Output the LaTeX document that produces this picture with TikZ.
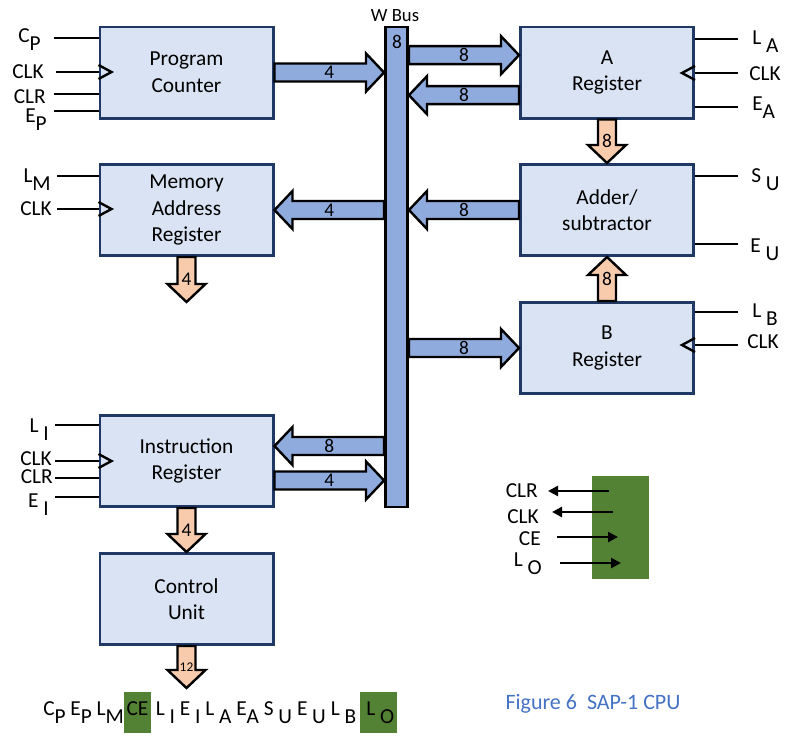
\documentclass[tikz,border=0pt]{standalone}
\usepackage{fontspec}
\setmainfont{Carlito}
\usepackage{xcolor}
\usepackage{tikz}
\usetikzlibrary{calc,arrows.meta}
\definecolor{boxfill}{RGB}{218,227,243}
\definecolor{boxline}{RGB}{31,56,100}
\definecolor{busblue}{RGB}{143,170,220}
\definecolor{aluorange}{RGB}{248,203,173}
\definecolor{sapgreen}{RGB}{84,130,53}
\definecolor{capblue}{RGB}{68,114,196}
\newcommand{\subs}[1]{\raisebox{-0.38em}{#1}}
\newcommand{\gbox}[1]{{\setlength{\fboxsep}{0pt}\colorbox{sapgreen}{\hspace{2pt}\rule[-13.5pt]{0pt}{30.75pt}#1\hspace{2pt}}}}
% block arrow: style, start, tip, label name, label
\newcommand{\blockarrow}[5]{%
  \coordinate (ba-s) at (#2);
  \coordinate (ba-t) at (#3);
  \coordinate (ba-h) at ($(ba-t)!13.5pt!(ba-s)$);
  \filldraw[#1] ($(ba-s)!6.75pt!90:(ba-t)$) -- ($(ba-h)!6.75pt!90:(ba-t)$) -- ($(ba-h)!14.25pt!90:(ba-t)$) -- (ba-t) -- ($(ba-h)!14.25pt!-90:(ba-t)$) -- ($(ba-h)!6.75pt!-90:(ba-t)$) -- ($(ba-s)!6.75pt!-90:(ba-t)$) -- cycle;
  \node[numlbl] (#4) at ($(ba-s)!.5!(ba-t)$) {#5};}
\tikzset{
  unit/.style={draw=boxline, fill=boxfill, line width=2pt, minimum width=130pt, minimum height=68.5pt, align=center, font=\fontsize{16}{20}\selectfont},
  wbus/.style={draw=black, fill=busblue, line width=2.2pt, minimum width=16.5pt, minimum height=360pt, inner sep=0pt},
  bluearrow/.style={draw=black, fill=busblue, line width=1.8pt},
  orangearrow/.style={draw=black, fill=aluorange, line width=1.8pt},
  numlbl/.style={inner sep=0pt, font=\fontsize{14.5}{16}\selectfont},
  sig/.style={inner sep=0pt, font=\fontsize{16}{18}\selectfont},
  ctl/.style={line width=2.2pt},
  legarrow/.style={line width=1.8pt, -{Triangle[length=7.5pt,width=7.5pt]}},
  clkmark/.pic={\draw[line width=1.8pt] (0,-7) -- (13,0) -- (0,7);}
}

\begin{document}
\begin{tikzpicture}[x=0.75pt, y=-0.75pt]
\useasboundingbox (0,0) rectangle (798,751);

% Units
\node[unit] (pc) at (186.5,72.5) {Program\\Counter};
\node[unit] (mar) at (186.5,210) {Memory\\Address\\Register};
\node[unit] (ir) at (186.5,461) {Instruction\\Register};
\node[unit] (cu) at (186.5,599) {Control\\Unit};
\node[unit] (areg) at (607,72.5) {A\\Register};
\node[unit] (alu) at (607,210) {Adder/\\subtractor};
\node[unit] (breg) at (607,348) {B\\Register};

% Bus
\node[wbus] (bus) at (396.5,267) {};
\node[numlbl] (busw) at (397,42) {8};
\node[sig, anchor=base, font=\fontsize{14}{16}\selectfont] (bustitle) at (395,21) {W Bus};

% Bus arrows
\coordinate (ain) at ([yshift=13pt]areg.west);
\coordinate (aout) at ([yshift=-17pt]areg.west);
\coordinate (irin) at ([yshift=11.25pt]ir.east);
\coordinate (irout) at ([yshift=-14.6pt]ir.east);
\blockarrow{bluearrow}{pc.east}{bus.west |- pc.east}{pcw}{4}
\blockarrow{bluearrow}{bus.west |- mar.east}{mar.east}{marw}{4}
\blockarrow{bluearrow}{bus.east |- ain}{ain}{aw1}{8}
\blockarrow{bluearrow}{aout}{bus.east |- aout}{aw2}{8}
\blockarrow{bluearrow}{alu.west}{bus.east |- alu.west}{aluw}{8}
\blockarrow{bluearrow}{bus.east |- breg.west}{breg.west}{bw}{8}
\blockarrow{bluearrow}{bus.west |- irin}{irin}{irw1}{8}
\blockarrow{bluearrow}{irout}{bus.west |- irout}{irw2}{4}

% Internal arrows
\coordinate (marout) at (186.5,302);
\coordinate (cuout) at (186.5,688);
\blockarrow{orangearrow}{areg.south}{alu.north}{aalu}{8}
\blockarrow{orangearrow}{breg.north}{alu.south}{balu}{8}
\blockarrow{orangearrow}{mar.south}{marout}{marram}{4}
\blockarrow{orangearrow}{ir.south}{cu.north}{ircu}{4}
\blockarrow{orangearrow}{cu.south}{cuout}{cuw}{\fontsize{10}{11}\selectfont 12}

% Control lines, left
\coordinate (cp) at (54,38);
\coordinate (pcclk) at (56,72);
\coordinate (pcclr) at (54,94);
\coordinate (ep) at (54,111);
\coordinate (lm) at (57,176);
\coordinate (marclk) at (57,209);
\coordinate (li) at (55,425);
\coordinate (irclk) at (55,461);
\coordinate (irclr) at (55,478);
\coordinate (ei) at (55,497);
\draw[ctl] (cp) -- (pc.west |- cp);
\draw[ctl] (pcclk) -- (pc.west |- pcclk);
\draw[ctl] (pcclr) -- (pc.west |- pcclr);
\draw[ctl] (ep) -- (pc.west |- ep);
\draw[ctl] (lm) -- (mar.west |- lm);
\draw[ctl] (marclk) -- (mar.west |- marclk);
\draw[ctl] (li) -- (ir.west |- li);
\draw[ctl] (irclk) -- (ir.west |- irclk);
\draw[ctl] (irclr) -- (ir.west |- irclr);
\draw[ctl] (ei) -- (ir.west |- ei);
\pic at (pc.west |- pcclk) {clkmark};
\pic at (mar.west |- marclk) {clkmark};
\pic at (ir.west |- irclk) {clkmark};

% Control lines, right
\coordinate (la) at (738,39);
\coordinate (aclk) at (738,73);
\coordinate (ea) at (738,107);
\coordinate (su) at (738,176);
\coordinate (eu) at (738,244);
\coordinate (lb) at (738,312);
\coordinate (bclk) at (738,345);
\draw[ctl] (la) -- (areg.east |- la);
\draw[ctl] (aclk) -- (areg.east |- aclk);
\draw[ctl] (ea) -- (areg.east |- ea);
\draw[ctl] (su) -- (alu.east |- su);
\draw[ctl] (eu) -- (alu.east |- eu);
\draw[ctl] (lb) -- (breg.east |- lb);
\draw[ctl] (bclk) -- (breg.east |- bclk);
\pic[xscale=-1] at (areg.east |- aclk) {clkmark};
\pic[xscale=-1] at (breg.east |- bclk) {clkmark};

% Labels
\node[sig, anchor=base east] (cpl) at (41,42) {C\subs{P}};
\node[sig, anchor=base east] (pcclkl) at (44,78) {CLK};
\node[sig, anchor=base east] (pcclrl) at (46,103) {CLR};
\node[sig, anchor=base east] (epl) at (47,122) {E\subs{P}};
\node[sig, anchor=base east] (lml) at (51,182) {L\subs{M}};
\node[sig, anchor=base east] (marclkl) at (52,215) {CLK};
\node[sig, anchor=base east] (lil) at (49,432) {L \subs{I}};
\node[sig, anchor=base east] (irclkl) at (52,465) {CLK};
\node[sig, anchor=base east] (irclrl) at (53,483) {CLR};
\node[sig, anchor=base east] (eil) at (49,507) {E \subs{I}};
\node[sig, anchor=base west] (lal) at (752,44) {L \subs{A}};
\node[sig, anchor=base west] (aclkl) at (749,80) {CLK};
\node[sig, anchor=base west] (eal) at (752,110) {E\subs{A}};
\node[sig, anchor=base west] (sul) at (751,182) {S \subs{U}};
\node[sig, anchor=base west] (eul) at (750,252) {E \subs{U}};
\node[sig, anchor=base west] (lbl) at (752,317) {L \subs{B}};
\node[sig, anchor=base west] (bclkl) at (747,348) {CLK};

% Control word
\node[sig, anchor=base west] (cword) at (43,715) {C\subs{P} E\subs{P} L\subs{M}\gbox{CE} L \subs{I} E \subs{I} L \subs{A} E\subs{A} S \subs{U} E \subs{U} L \subs{B}\,\gbox{\hspace{3pt}L \subs{O}}};

% Clock and clear block
\node[fill=sapgreen, minimum width=42.75pt, minimum height=77.25pt, inner sep=0pt] (gblk) at (620.5,527.5) {};
\coordinate (clrs) at (609,491);
\coordinate (clre) at (548,491);
\coordinate (clks) at (613,512);
\coordinate (clke) at (552,512);
\coordinate (ces) at (557,537);
\coordinate (cee) at (618,537);
\coordinate (los) at (560,563);
\coordinate (loe) at (621,563);
\draw[legarrow] (clrs) -- (clre);
\draw[legarrow] (clks) -- (clke);
\draw[legarrow] (ces) -- (cee);
\draw[legarrow] (los) -- (loe);
\node[sig, anchor=base east] (clrl) at (538,497) {CLR};
\node[sig, anchor=base east] (clkl) at (539,523) {CLK};
\node[sig, anchor=base east] (cel) at (541,545) {CE};
\node[sig, anchor=base east] (lol) at (542,566) {L \subs{O}};

% Caption
\node[sig, anchor=base, text=capblue, font=\fontsize{16.5}{18}\selectfont] (cap) at (593,709) {Figure 6\ \ SAP-1 CPU};
\end{tikzpicture}
\end{document}
